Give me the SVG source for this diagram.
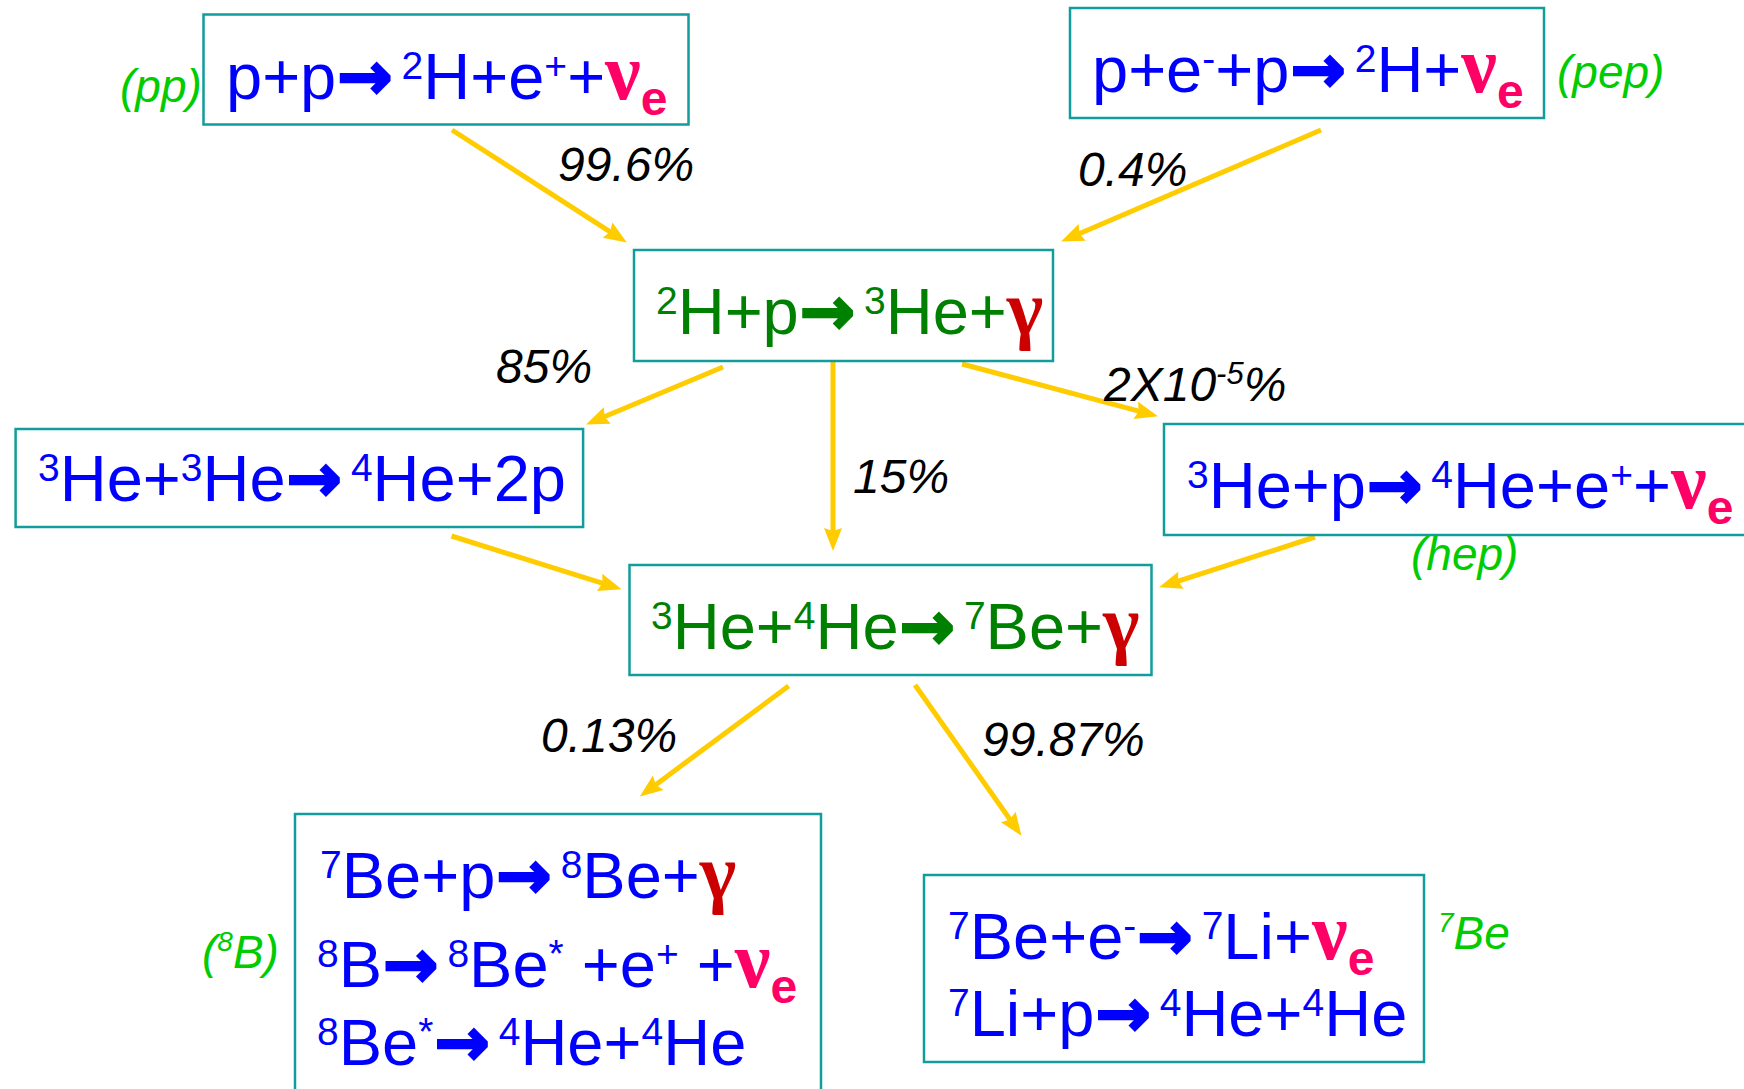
<svg xmlns="http://www.w3.org/2000/svg" width="1744" height="1089" viewBox="0 0 1744 1089">
<defs>
<style>
.box{fill:#fff;stroke:#129C9C;stroke-width:2.5}
.t{font-family:"Liberation Sans",Arial,sans-serif;font-size:65px}
.blue{fill:#0000FF}
.green{fill:#008000}
.sup{font-size:39px}
.ar{font-family:"DejaVu Sans",sans-serif;font-weight:bold;font-size:66px;stroke-width:2.5}
.arb{stroke:#0000FF}
.arg{stroke:#008000}
.nu{font-family:"Liberation Serif","Times New Roman",serif;font-weight:bold;font-size:80px;fill:#FF0066}
.sub{font-family:"Liberation Sans",Arial,sans-serif;font-weight:bold;font-size:48px;fill:#FF0066}
.gam{font-family:"Liberation Serif","Times New Roman",serif;font-weight:bold;font-size:78px;fill:#CC0000}
.pct{font-family:"Liberation Sans",Arial,sans-serif;font-style:italic;font-size:48px;fill:#000}
.lbl{font-family:"Liberation Sans",Arial,sans-serif;font-style:italic;font-size:46px;fill:#00CC00}
.conn line{stroke:#FFCC00;stroke-width:5}
</style>
<marker id="ah" markerUnits="userSpaceOnUse" markerWidth="24" markerHeight="20" refX="11" refY="9" orient="auto" overflow="visible">
<path d="M0,0 L23,9 L0,18 L3,9 z" fill="#FFCC00"/>
</marker>
</defs>
<rect width="1744" height="1089" fill="#fff"/>

<g id="connectors" class="conn">
<line x1="452" y1="130" x2="616.8" y2="236.1" marker-end="url(#ah)"/>
<line x1="1321" y1="130" x2="1072.1" y2="236.7" marker-end="url(#ah)"/>
<line x1="723" y1="367" x2="597.1" y2="419.8" marker-end="url(#ah)"/>
<line x1="833" y1="361" x2="833" y2="539" marker-end="url(#ah)"/>
<line x1="962" y1="364" x2="1146.4" y2="413.2" marker-end="url(#ah)"/>
<line x1="451.5" y1="536" x2="610.1" y2="585.7" marker-end="url(#ah)"/>
<line x1="1315" y1="537" x2="1170.5" y2="583.6" marker-end="url(#ah)"/>
<line x1="788.6" y1="686" x2="649.4" y2="789.4" marker-end="url(#ah)"/>
<line x1="915" y1="685" x2="1014.6" y2="826" marker-end="url(#ah)"/>
</g>

<g id="labels">
<text class="pct" x="558" y="181">99.6%</text>
<text class="pct" x="1078" y="186">0.4%</text>
<text class="pct" x="496" y="383">85%</text>
<text class="pct" x="853" y="493">15%</text>
<text class="pct" x="1104" y="401">2X10<tspan font-size="31" dy="-17">-5</tspan><tspan dy="17">%</tspan></text>
<text class="pct" x="541" y="752">0.13%</text>
<text class="pct" x="982" y="756">99.87%</text>
</g>

<g id="node-pp">
<rect class="box" x="203.5" y="14.5" width="485" height="110"/>
<text class="t blue" x="226" y="99">p+p<tspan class="ar arb" dx="1">→</tspan><tspan class="sup" dx="9" dy="-20">2</tspan><tspan dy="20">H+e</tspan><tspan class="sup" dy="-20">+</tspan><tspan dy="20">+</tspan><tspan class="nu">ν</tspan><tspan class="sub" dy="16">e</tspan></text>
<text class="lbl" x="120" y="102">(pp)</text>
</g>

<g id="node-pep">
<rect class="box" x="1070" y="8" width="474" height="110"/>
<text class="t blue" x="1092" y="92">p+e<tspan class="sup" dy="-20">-</tspan><tspan dy="20">+p</tspan><tspan class="ar arb" dx="1">→</tspan><tspan class="sup" dx="9" dy="-20">2</tspan><tspan dy="20">H+</tspan><tspan class="nu">ν</tspan><tspan class="sub" dy="16">e</tspan></text>
<text class="lbl" x="1557" y="88">(pep)</text>
</g>

<g id="node-2Hp">
<rect class="box" x="634" y="250" width="419" height="111"/>
<text class="t green" x="656" y="334"><tspan class="sup" dy="-20">2</tspan><tspan dy="20">H+p</tspan><tspan class="ar arg" dx="1">→</tspan><tspan class="sup" dx="9" dy="-20">3</tspan><tspan dy="20">He+</tspan><tspan class="gam">γ</tspan></text>
</g>

<g id="node-3He3He">
<rect class="box" x="15.6" y="429" width="567.5" height="98"/>
<text class="t blue" x="38" y="501"><tspan class="sup" dy="-20">3</tspan><tspan dy="20">He+</tspan><tspan class="sup" dy="-20">3</tspan><tspan dy="20">He</tspan><tspan class="ar arb" dx="1">→</tspan><tspan class="sup" dx="9" dy="-20">4</tspan><tspan dy="20">He+2p</tspan></text>
</g>

<g id="node-hep">
<rect class="box" x="1164" y="424" width="620" height="111"/>
<text class="t blue" x="1187" y="508"><tspan class="sup" dy="-20">3</tspan><tspan dy="20">He+p</tspan><tspan class="ar arb" dx="1">→</tspan><tspan class="sup" dx="9" dy="-20">4</tspan><tspan dy="20">He+e</tspan><tspan class="sup" dy="-20">+</tspan><tspan dy="20">+</tspan><tspan class="nu">ν</tspan><tspan class="sub" dy="16">e</tspan></text>
<text class="lbl" x="1411" y="570">(hep)</text>
</g>

<g id="node-3He4He">
<rect class="box" x="629.5" y="565" width="522" height="110"/>
<text class="t green" x="651" y="649"><tspan class="sup" dy="-20">3</tspan><tspan dy="20">He+</tspan><tspan class="sup" dy="-20">4</tspan><tspan dy="20">He</tspan><tspan class="ar arg" dx="1">→</tspan><tspan class="sup" dx="9" dy="-20">7</tspan><tspan dy="20">Be+</tspan><tspan class="gam">γ</tspan></text>
</g>

<g id="node-8B">
<rect class="box" x="295" y="814" width="526" height="300"/>
<text class="t blue" x="320" y="898"><tspan class="sup" dy="-20">7</tspan><tspan dy="20">Be+p</tspan><tspan class="ar arb" dx="1">→</tspan><tspan class="sup" dx="9" dy="-20">8</tspan><tspan dy="20">Be+</tspan><tspan class="gam">γ</tspan></text>
<text class="t blue" x="317" y="987"><tspan class="sup" dy="-20">8</tspan><tspan dy="20">B</tspan><tspan class="ar arb" dx="1">→</tspan><tspan class="sup" dx="9" dy="-20">8</tspan><tspan dy="20">Be</tspan><tspan class="sup" dy="-20">*</tspan><tspan dy="20"> +e</tspan><tspan class="sup" dy="-20">+</tspan><tspan dy="20"> +</tspan><tspan class="nu">ν</tspan><tspan class="sub" dy="16">e</tspan></text>
<text class="t blue" x="317" y="1065"><tspan class="sup" dy="-20">8</tspan><tspan dy="20">Be</tspan><tspan class="sup" dy="-20">*</tspan><tspan class="ar arb" dx="1" dy="20">→</tspan><tspan class="sup" dx="9" dy="-20">4</tspan><tspan dy="20">He+</tspan><tspan class="sup" dy="-20">4</tspan><tspan dy="20">He</tspan></text>
<text class="lbl" x="202" y="968">(<tspan font-size="28" dy="-17">8</tspan><tspan dy="17">B)</tspan></text>
</g>

<g id="node-7Be">
<rect class="box" x="924" y="875" width="500" height="187"/>
<text class="t blue" x="948" y="959"><tspan class="sup" dy="-20">7</tspan><tspan dy="20">Be+e</tspan><tspan class="sup" dy="-20">-</tspan><tspan class="ar arb" dx="1" dy="20">→</tspan><tspan class="sup" dx="9" dy="-20">7</tspan><tspan dy="20">Li+</tspan><tspan class="nu">ν</tspan><tspan class="sub" dy="16">e</tspan></text>
<text class="t blue" x="948" y="1036"><tspan class="sup" dy="-20">7</tspan><tspan dy="20">Li+p</tspan><tspan class="ar arb" dx="1">→</tspan><tspan class="sup" dx="9" dy="-20">4</tspan><tspan dy="20">He+</tspan><tspan class="sup" dy="-20">4</tspan><tspan dy="20">He</tspan></text>
<text class="lbl" x="1438" y="949"><tspan font-size="28" dy="-17">7</tspan><tspan dy="17">Be</tspan></text>
</g>
</svg>
